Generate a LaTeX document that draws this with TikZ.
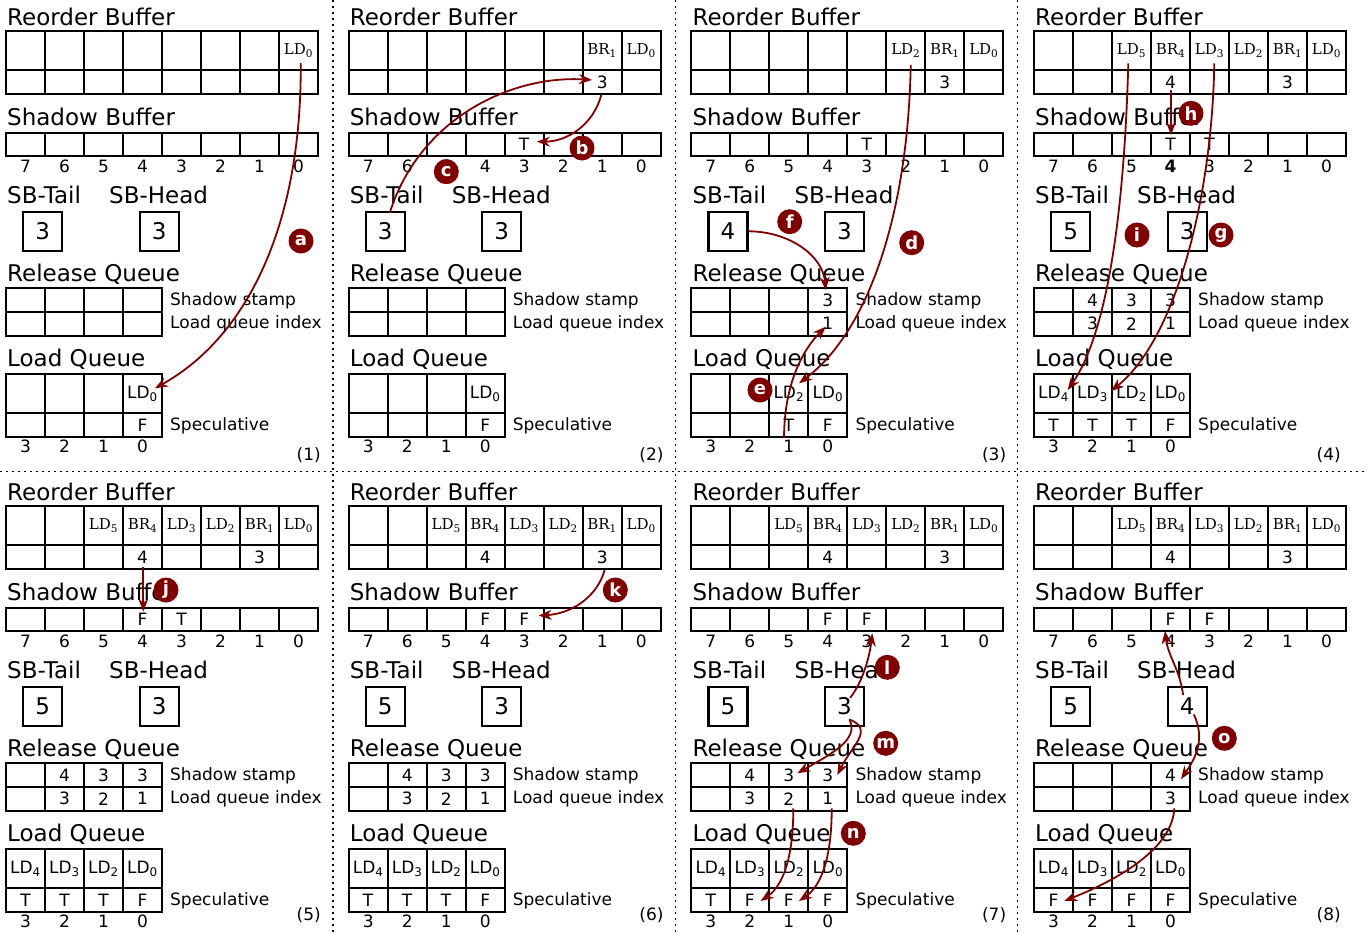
\documentclass[tikz,border=0pt]{standalone}
\usepackage{fontspec}
\setmainfont{DejaVu Sans}
\newfontfamily\robfont{DejaVu Serif}
\usetikzlibrary{arrows.meta,calc}

\definecolor{darkred}{RGB}{128,0,0}
\newcommand{\fsz}[1]{\fontsize{#1}{#1}\selectfont}
\newcommand{\rob}[2]{{\robfont\fsz{15}#1\textsubscript{#2}}}
\newcommand{\ld}[1]{LD\textsubscript{#1}}

\tikzset{
  cell/.style={draw, line width=2.2pt, inner sep=0pt, outer sep=0pt, anchor=north west, minimum width=39, font=\fsz{17}},
  title/.style={anchor=base west, inner sep=0pt, font=\fsz{23}},
  side/.style={anchor=base west, inner sep=0pt, font=\fsz{17}},
  idx/.style={inner sep=0pt, font=\fsz{17}},
  ptr/.style={draw, line width=2.2pt, minimum size=39, inner sep=0pt, anchor=north west, font=\fsz{23}},
  flow/.style={darkred, line width=1.8pt, -{Stealth[length=13pt,width=10pt]}},
  tagdot/.style={circle, fill=darkred, text=white, inner sep=0pt, minimum size=25, font=\bfseries\fsz{18}},
  sep/.style={line width=1.8pt, dash pattern=on 2pt off 4pt},
  panelno/.style={anchor=base east, inner sep=0pt, font=\fsz{17}},
}

% reorder buffer: panel, instructions, shadow stamps (left to right)
\newcommand{\robuf}[3]{%
  \node[title] (#1-robt) at (7,25) {Reorder Buffer};
  \foreach \t [count=\i, evaluate=\i as \k using int(8-\i)] in {#2}
    \node[cell, minimum height=39] (#1-rt\k) at ({6+(\i-1)*39},31.3) {\t};
  \foreach \t [count=\i, evaluate=\i as \k using int(8-\i)] in {#3}
    \node[cell, minimum height=23.7] (#1-rb\k) at ({6+(\i-1)*39},70.3) {\t};
}
% shadow buffer: panel, bits, index printed bold
\newcommand{\shbuf}[3]{%
  \node[title] (#1-sbt) at (7,125) {Shadow Buffer};
  \foreach \t [count=\i, evaluate=\i as \k using int(8-\i)] in {#2} {
    \node[cell, minimum height=22.7] (#1-sb\k) at ({6+(\i-1)*39},133.3) {\t};
    \node[idx] (#1-si\k) at ({25.5+(\i-1)*39},166) {\ifnum\k=#3\relax\bfseries\fi\k};
  }
}
\newcommand{\sbptr}[3]{%
  \node[title] (#1-tailt) at (7,203) {SB-Tail};
  \node[title] (#1-headt) at (109,203) {SB-Head};
  \node[ptr] (#1-tail) at (22,210.7) {#2};
  \node[ptr] (#1-head) at (138.5,210.7) {#3};
}
\newcommand{\relq}[3]{%
  \node[title] (#1-rqt) at (7,281) {Release Queue};
  \foreach \t [count=\i, evaluate=\i as \k using int(4-\i)] in {#2}
    \node[cell, minimum height=23.4] (#1-qs\k) at ({6+(\i-1)*39},288.3) {\t};
  \foreach \t [count=\i, evaluate=\i as \k using int(4-\i)] in {#3}
    \node[cell, minimum height=24] (#1-qi\k) at ({6+(\i-1)*39},311.7) {\t};
  \node[side] (#1-qsl) at (170,305) {Shadow stamp};
  \node[side] (#1-qil) at (170,328) {Load queue index};
}
\newcommand{\loadq}[3]{%
  \node[title] (#1-lqt) at (7,366.7) {Load Queue};
  \foreach \t [count=\i, evaluate=\i as \k using int(4-\i)] in {#2} {
    \node[cell, minimum height=39] (#1-lq\k) at ({6+(\i-1)*39},374.3) {\t};
    \node[idx] (#1-li\k) at ({25.5+(\i-1)*39},446) {\k};
  }
  \foreach \t [count=\i, evaluate=\i as \k using int(4-\i)] in {#3}
    \node[cell, minimum height=23.4] (#1-ls\k) at ({6+(\i-1)*39},413.3) {\t};
  \node[side] (#1-lsl) at (170,430) {Speculative};
}

\begin{document}
\begin{tikzpicture}[x=1pt,y=-1pt]
\useasboundingbox (0,0) rectangle (1368,932);

\draw[sep] (333.3,0) -- (333.3,932);
\draw[sep] (675.5,0) -- (675.5,932);
\draw[sep] (1017.5,0) -- (1017.5,932);
\draw[sep] (0,471.5) -- (1368,471.5);

% (1)
\begin{scope}
\robuf{P1}{{},{},{},{},{},{},{},\rob{LD}{0}}{{},{},{},{},{},{},{},{}}
\shbuf{P1}{{},{},{},{},{},{},{},{}}{-1}
\sbptr{P1}{3}{3}
\relq{P1}{{},{},{},{}}{{},{},{},{}}
\loadq{P1}{{},{},{},\ld0}{{},{},{},F}
\node[panelno] (P1-no) at (321,460) {(1)};
\end{scope}

% (2)
\begin{scope}[shift={(342.67,0)}]
\robuf{P2}{{},{},{},{},{},{},\rob{BR}{1},\rob{LD}{0}}{{},{},{},{},{},{},3,{}}
\shbuf{P2}{{},{},{},{},T,{},{},{}}{-1}
\sbptr{P2}{3}{3}
\relq{P2}{{},{},{},{}}{{},{},{},{}}
\loadq{P2}{{},{},{},\ld0}{{},{},{},F}
\node[panelno] (P2-no) at (321,460) {(2)};
\end{scope}

% (3)
\begin{scope}[shift={(685.33,0)}]
\robuf{P3}{{},{},{},{},{},\rob{LD}{2},\rob{BR}{1},\rob{LD}{0}}{{},{},{},{},{},{},3,{}}
\shbuf{P3}{{},{},{},{},T,{},{},{}}{-1}
\sbptr{P3}{4}{3}
\relq{P3}{{},{},{},3}{{},{},{},1}
\loadq{P3}{{},{},\ld2,\ld0}{{},{},T,F}
\node[panelno] (P3-no) at (321,460) {(3)};
\end{scope}

% (4)
\begin{scope}[shift={(1028,0)}]
\robuf{P4}{{},{},\rob{LD}{5},\rob{BR}{4},\rob{LD}{3},\rob{LD}{2},\rob{BR}{1},\rob{LD}{0}}{{},{},{},4,{},{},3,{}}
\shbuf{P4}{{},{},{},T,T,{},{},{}}{4}
\sbptr{P4}{5}{3}
\relq{P4}{{},4,3,3}{{},3,2,1}
\loadq{P4}{\ld4,\ld3,\ld2,\ld0}{T,T,T,F}
\node[panelno] (P4-no) at (313,460) {(4)};
\end{scope}

% (5)
\begin{scope}[shift={(0,475)}]
\robuf{P5}{{},{},\rob{LD}{5},\rob{BR}{4},\rob{LD}{3},\rob{LD}{2},\rob{BR}{1},\rob{LD}{0}}{{},{},{},4,{},{},3,{}}
\shbuf{P5}{{},{},{},F,T,{},{},{}}{-1}
\sbptr{P5}{5}{3}
\relq{P5}{{},4,3,3}{{},3,2,1}
\loadq{P5}{\ld4,\ld3,\ld2,\ld0}{T,T,T,F}
\node[panelno] (P5-no) at (321,445) {(5)};
\end{scope}

% (6)
\begin{scope}[shift={(342.67,475)}]
\robuf{P6}{{},{},\rob{LD}{5},\rob{BR}{4},\rob{LD}{3},\rob{LD}{2},\rob{BR}{1},\rob{LD}{0}}{{},{},{},4,{},{},3,{}}
\shbuf{P6}{{},{},{},F,F,{},{},{}}{-1}
\sbptr{P6}{5}{3}
\relq{P6}{{},4,3,3}{{},3,2,1}
\loadq{P6}{\ld4,\ld3,\ld2,\ld0}{T,T,T,F}
\node[panelno] (P6-no) at (321,445) {(6)};
\end{scope}

% (7)
\begin{scope}[shift={(685.33,475)}]
\robuf{P7}{{},{},\rob{LD}{5},\rob{BR}{4},\rob{LD}{3},\rob{LD}{2},\rob{BR}{1},\rob{LD}{0}}{{},{},{},4,{},{},3,{}}
\shbuf{P7}{{},{},{},F,F,{},{},{}}{-1}
\sbptr{P7}{5}{3}
\relq{P7}{{},4,3,3}{{},3,2,1}
\loadq{P7}{\ld4,\ld3,\ld2,\ld0}{T,F,F,F}
\node[panelno] (P7-no) at (321,445) {(7)};
\end{scope}

% (8)
\begin{scope}[shift={(1028,475)}]
\robuf{P8}{{},{},\rob{LD}{5},\rob{BR}{4},\rob{LD}{3},\rob{LD}{2},\rob{BR}{1},\rob{LD}{0}}{{},{},{},4,{},{},3,{}}
\shbuf{P8}{{},{},{},F,F,{},{},{}}{-1}
\sbptr{P8}{5}{4}
\relq{P8}{{},{},{},4}{{},{},{},3}
\loadq{P8}{\ld4,\ld3,\ld2,\ld0}{F,F,F,F}
\node[panelno] (P8-no) at (313,445) {(8)};
\end{scope}

% arrows
\draw[flow] ($(P1-rt0)+(2.2,12.2)$) .. controls +(1.3,157) and +(95,-53) .. ($(P1-lq0)+(12.5,-5.5)$);
\draw[flow] ($(P2-rb1)+(-0.9,12.9)$) .. controls +(-8,30) and +(30,0) .. ($(P2-sb3)+(12.8,-3)$);
\draw[flow] ($(P2-tail)+(4.5,-18.5)$) .. controls +(30,-95) and +(-80,-5) .. ($(P2-rb1)+(-10.2,-2.2)$);
\draw[flow] ($(P3-rt2)+(4.9,14.2)$) .. controls +(-2.7,145) and +(71,-53.3) .. ($(P3-lq1)+(10.2,-10.5)$);
\draw[flow] ($(P3-tail)+(20.5,0)$) .. controls +(40,0) and +(-3,-35) .. ($(P3-qs0)+(-2.1,-10)$);
\draw[flow] ($(P3-ls1)+(-4.8,13)$) .. controls +(0,-55) and +(-22,22) .. ($(P3-qi0)+(-2.1,3)$);
\draw[flow] ($(P4-rb4)+(0.5,8)$) -- ($(P4-sb4)+(0.5,-9.6)$);
\draw[flow] ($(P4-rt5)+(-3.2,12.5)$) .. controls +(-4.3,156.7) and +(38.3,-55) .. ($(P4-lq3)+(14.2,-3.8)$);
\draw[flow] ($(P4-rt3)+(4.8,12.5)$) .. controls +(-2.3,136.7) and +(64,-51) .. ($(P4-lq2)+(18.5,-2.8)$);
\draw[flow] ($(P5-rb4)+(0.8,9.5)$) -- ($(P5-sb4)+(0.8,-8)$);
\draw[flow] ($(P6-rb1)+(2.5,12.9)$) .. controls +(-8,28) and +(32,-2) .. ($(P6-sb3)+(14.5,-4)$);
\draw[flow] ($(P7-head)+(5.7,-8.5)$) .. controls +(12,-15) and +(-3,25) .. ($(P7-sb3)+(5.5,13.7)$);
\draw[flow] ($(P7-head)+(5,13.1)$) .. controls +(10,20) and +(35,-20) .. ($(P7-qs1)+(8.5,-1.7)$);
\draw[flow] ($(P7-head)+(5,13.1)$) .. controls +(25,10) and +(15,-30) .. ($(P7-qs0)+(9.5,0)$);
\draw[flow] ($(P7-qi1)+(4.5,9.6)$) .. controls +(0,50) and +(22,-15) .. ($(P7-ls2)+(10.9,1)$);
\draw[flow] ($(P7-qi0)+(3.9,9.6)$) .. controls +(0,50) and +(22,-15) .. ($(P7-ls1)+(10.2,1)$);
\draw[flow] ($(P8-head)+(-4,-11.2)$) .. controls +(-3,-25) and +(3,25) .. ($(P8-sb4)+(-5.5,11.4)$);
\draw[flow] ($(P8-head)+(6.7,8.1)$) .. controls +(12,25) and +(14,-20) .. ($(P8-qs0)+(10.5,4)$);
\draw[flow] ($(P8-qi0)+(3.8,9.6)$) .. controls +(-2,40) and +(55,-22) .. ($(P8-ls3)+(10.8,1)$);

% step tags
\node[tagdot] (tag-a) at (301,241) {a};
\node[tagdot] (tag-b) at (582,148) {b};
\node[tagdot] (tag-c) at (446.3,171.7) {c};
\node[tagdot] (tag-d) at (911.7,242.7) {d};
\node[tagdot] (tag-e) at (760,390) {e};
\node[tagdot] (tag-f) at (789.7,221.7) {f};
\node[tagdot] (tag-g) at (1221,235) {g};
\node[tagdot] (tag-h) at (1191,113.3) {h};
\node[tagdot] (tag-i) at (1137,235) {i};
\node[tagdot] (tag-j) at (166,590) {j};
\node[tagdot] (tag-k) at (615.3,590) {k};
\node[tagdot] (tag-l) at (887.3,667.3) {l};
\node[tagdot] (tag-m) at (885.7,743.3) {m};
\node[tagdot] (tag-n) at (853.3,833.3) {n};
\node[tagdot] (tag-o) at (1224.3,738.3) {o};
\end{tikzpicture}
\end{document}
